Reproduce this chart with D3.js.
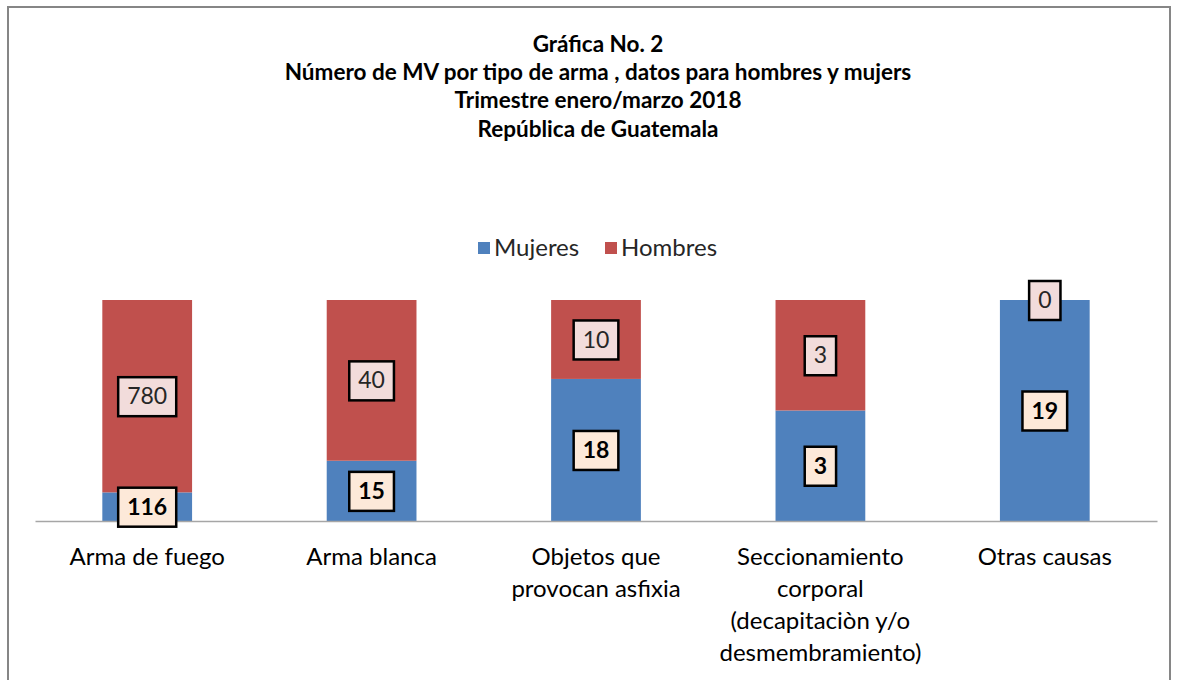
<!DOCTYPE html>
<html>
<head>
<meta charset="utf-8">
<style>
    body { margin: 0; background: #fff; }
    svg { font-family: Lato, "Open Sans", sans-serif; }
</style>
</head>
<body>
<svg width="1178" height="680"></svg>
<script src="https://d3js.org/d3.v7.min.js"></script>
<script>
    // chart values
    let titleLines = ["Gráfica No. 2",
        "Número de MV por tipo de arma , datos para hombres y mujers",
        "Trimestre enero/marzo 2018",
        "República de Guatemala"]
    let categories = ["Arma de fuego", "Arma blanca", "Objetos que provocan asfixia",
        "Seccionamiento corporal (decapitaciòn y/o desmembramiento)", "Otras causas"]
    let tickLines = [["Arma de fuego"], ["Arma blanca"], ["Objetos que", "provocan asfixia"],
        ["Seccionamiento", "corporal", "(decapitaciòn y/o", "desmembramiento)"], ["Otras causas"]]
    let series = ["Mujeres", "Hombres"]
    let mujeres = [116, 15, 18, 3, 19]
    let hombres = [780, 40, 10, 3, 0]

    let colors = { Mujeres: "#4f81bd", Hombres: "#c0504d" }
    let labelFill = { Mujeres: "#fde9d9", Hombres: "#f2dcdb" }

    let svg = d3.select("svg")

    // outer frame
    svg.append("rect")
        .attr("x", 8).attr("y", 7)
        .attr("width", 1162).attr("height", 700)
        .style("fill", "none")
        .style("stroke", "#868686")
        .style("stroke-width", 2)

    // title
    svg.append("g")
        .selectAll("text")
        .data(titleLines)
        .join("text")
        .attr("x", 598)
        .attr("y", (d, i) => 44 + i * 28.3)
        .attr("dy", "0.35em")
        .attr("text-anchor", "middle")
        .style("font-weight", "bold")
        .style("font-size", "22.5px")
        .text(d => d)

    let rows = categories.map((c, i) => ({ cat: c, Mujeres: mujeres[i], Hombres: hombres[i] }))
    let stacked = d3.stack().keys(series).offset(d3.stackOffsetExpand)(rows)

    let x = d3.scaleBand()
        .domain(categories)
        .range([35, 1157])
        .paddingInner(0.6)
        .paddingOuter(0.3)

    let y = d3.scaleLinear()
        .domain([0, 1])
        .range([521, 300])

    // bars
    svg.append("g")
        .selectAll("g")
        .data(stacked)
        .join("g")
        .style("fill", d => colors[d.key])
        .selectAll("rect")
        .data(d => d)
        .join("rect")
        .attr("x", d => x(d.data.cat))
        .attr("width", x.bandwidth())
        .attr("y", d => y(d[1]))
        .attr("height", d => y(d[0]) - y(d[1]))

    // axis
    let axis = svg.append("g")
        .attr("transform", "translate(0,521)")
        .call(d3.axisBottom(x).tickSize(0).tickFormat(""))
    axis.select(".domain")
        .style("stroke", "#a6a6a6")
        .style("stroke-width", 1.5)

    // category labels
    svg.append("g")
        .selectAll("text")
        .data(categories)
        .join("text")
        .attr("x", d => x(d) + x.bandwidth() / 2)
        .attr("text-anchor", "middle")
        .style("font-size", "24px")
        .style("fill", "#000")
        .each(function (d, i) {
            d3.select(this).selectAll("tspan")
                .data(tickLines[i])
                .join("tspan")
                .attr("x", x(d) + x.bandwidth() / 2)
                .attr("y", (t, j) => 557 + j * 31.8)
                .attr("dy", "0.35em")
                .text(t => t)
        })

    // data labels
    let labels = svg.append("g")
    stacked.forEach(s => {
        s.forEach(d => {
            let cx = x(d.data.cat) + x.bandwidth() / 2
            let cy = (y(d[0]) + y(d[1])) / 2
            let g = labels.append("g")
            let box = g.append("rect")
            let t = g.append("text")
                .attr("x", cx).attr("y", cy)
                .attr("dy", "0.35em")
                .attr("text-anchor", "middle")
                .style("font-size", "23px")
                .style("font-weight", s.key == "Mujeres" ? "bold" : "normal")
                .style("fill", s.key == "Mujeres" ? "#000" : "#262626")
                .text(d.data[s.key])
            let bb = t.node().getBBox()
            box.attr("x", bb.x - 9).attr("y", cy - 19)
                .attr("width", bb.width + 18).attr("height", 39)
                .style("fill", labelFill[s.key])
                .style("stroke", "#000")
                .style("stroke-width", 2.5)
        })
    })

    // legend
    let legend = svg.append("g")
    let lx = [478, 605]
    series.forEach((k, i) => {
        legend.append("rect")
            .attr("x", lx[i]).attr("y", 242)
            .attr("width", 12).attr("height", 12)
            .style("fill", colors[k])
        legend.append("text")
            .attr("x", lx[i] + 16).attr("y", 248)
            .attr("dy", "0.35em")
            .style("font-size", "24px")
            .style("fill", "#262626")
            .text(k)
    })
</script>
</body>
</html>
